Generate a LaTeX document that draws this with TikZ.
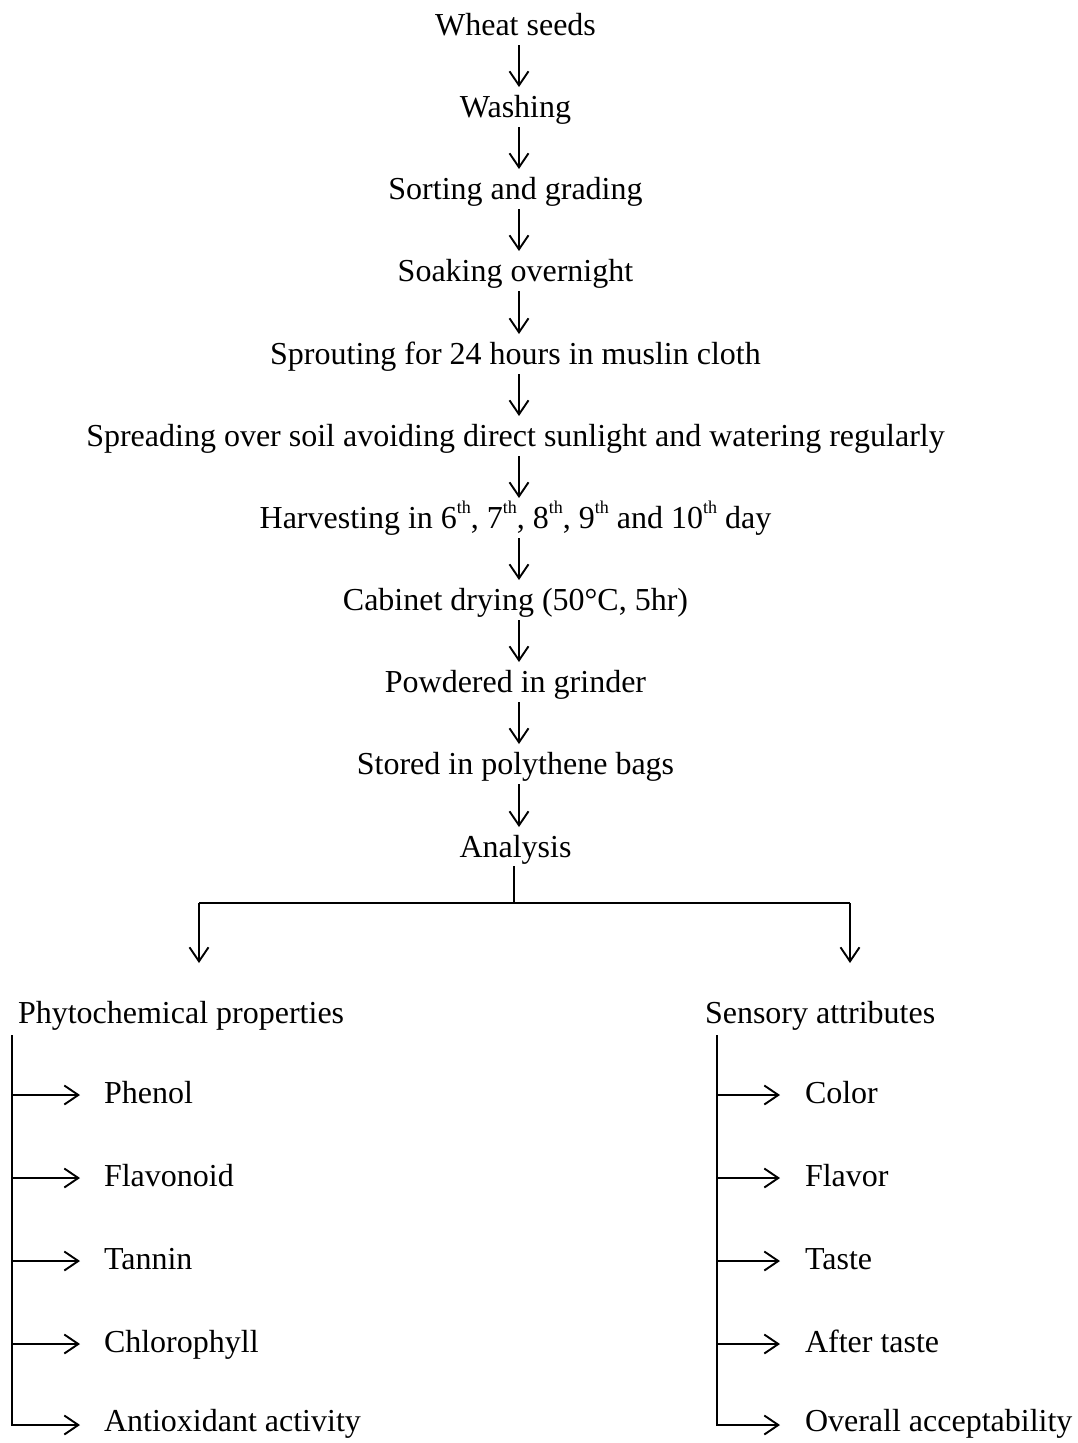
\documentclass[tikz,border=0pt]{standalone}
\usepackage{fontspec}
\setmainfont{Liberation Serif}
\usetikzlibrary{arrows.meta}
\newcommand{\myth}{\raisebox{1.0ex}{\fontsize{18}{18}\selectfont th}}
\begin{document}
\begin{tikzpicture}[x=1pt,y=-1pt,
  txt/.style={inner sep=0pt,outer sep=0pt,text height=22pt,text depth=6pt,font=\fontsize{32}{38}\selectfont},
  stepnode/.style={txt,anchor=base},
  leafnode/.style={txt,anchor=base west},
  ln/.style={line width=1.9pt},
  arr/.style={ln,-{Straight Barb[length=14pt,width=19pt]}},
  vstep/.style={arr,shorten <=4pt,shorten >=8pt}]
\useasboundingbox (0,0) rectangle (1077,1443);
\def\cx{515.5}
\node[stepnode] (s1) at (\cx,35) {Wheat seeds};
\node[stepnode] (s2) at (\cx,117) {Washing};
\node[stepnode] (s3) at (\cx,199) {Sorting and grading};
\node[stepnode] (s4) at (\cx,281) {Soaking overnight};
\node[stepnode] (s5) at (\cx,364) {Sprouting for 24 hours in muslin cloth};
\node[stepnode] (s6) at (\cx,446) {Spreading over soil avoiding direct sunlight and watering regularly};
\node[stepnode] (s7) at (\cx,528) {Harvesting in 6\myth, 7\myth, 8\myth, 9\myth{} and 10\myth{} day};
\node[stepnode] (s8) at (\cx,610) {Cabinet drying (50°C, 5hr)};
\node[stepnode] (s9) at (\cx,692) {Powdered in grinder};
\node[stepnode] (s10) at (\cx,774) {Stored in polythene bags};
\node[stepnode] (s11) at (\cx,857) {Analysis};
\foreach \a/\b in {s1/s2,s2/s3,s3/s4,s4/s5,s5/s6,s6/s7,s7/s8,s8/s9,s9/s10,s10/s11}
  \draw[vstep] ([xshift=3.5pt]\a.south) -- ([xshift=3.5pt]\b.north);
% branch
\coordinate (bj) at (514,903);
\coordinate (bl) at (199,903);
\coordinate (br) at (850,903);
\node[leafnode] (ph) at (18,1023) {Phytochemical properties};
\node[leafnode] (se) at (705,1023) {Sensory attributes};
\draw[ln,shorten <=3pt] (bj |- s11.south) -- (bj);
\draw[ln] (bl) -- (br);
\draw[arr,shorten >=38pt] (bl) -- (bl |- ph.north);
\draw[arr,shorten >=38pt] (br) -- (br |- se.north);
% left list
\node[leafnode] (p1) at (104,1103) {Phenol};
\node[leafnode] (p2) at (104,1186) {Flavonoid};
\node[leafnode] (p3) at (104,1269) {Tannin};
\node[leafnode] (p4) at (104,1352) {Chlorophyll};
\node[leafnode] (p5) at (104,1431) {Antioxidant activity};
\coordinate (ltop) at (12,1035);
\draw[arr,shorten >=24pt] (ltop) |- ([yshift=-2pt]p5.west);
\foreach \n in {p1,p2,p3,p4}
  \draw[arr,shorten >=24pt] (ltop |- \n.west) -- (\n.west);
% right list
\node[leafnode] (r1) at (805,1103) {Color};
\node[leafnode] (r2) at (805,1186) {Flavor};
\node[leafnode] (r3) at (805,1269) {Taste};
\node[leafnode] (r4) at (805,1352) {After taste};
\node[leafnode] (r5) at (805,1431) {Overall acceptability};
\coordinate (rtop) at (717,1035);
\draw[arr,shorten >=25pt] (rtop) |- ([yshift=-2pt]r5.west);
\foreach \n in {r1,r2,r3,r4}
  \draw[arr,shorten >=25pt] (rtop |- \n.west) -- (\n.west);
\end{tikzpicture}
\end{document}
